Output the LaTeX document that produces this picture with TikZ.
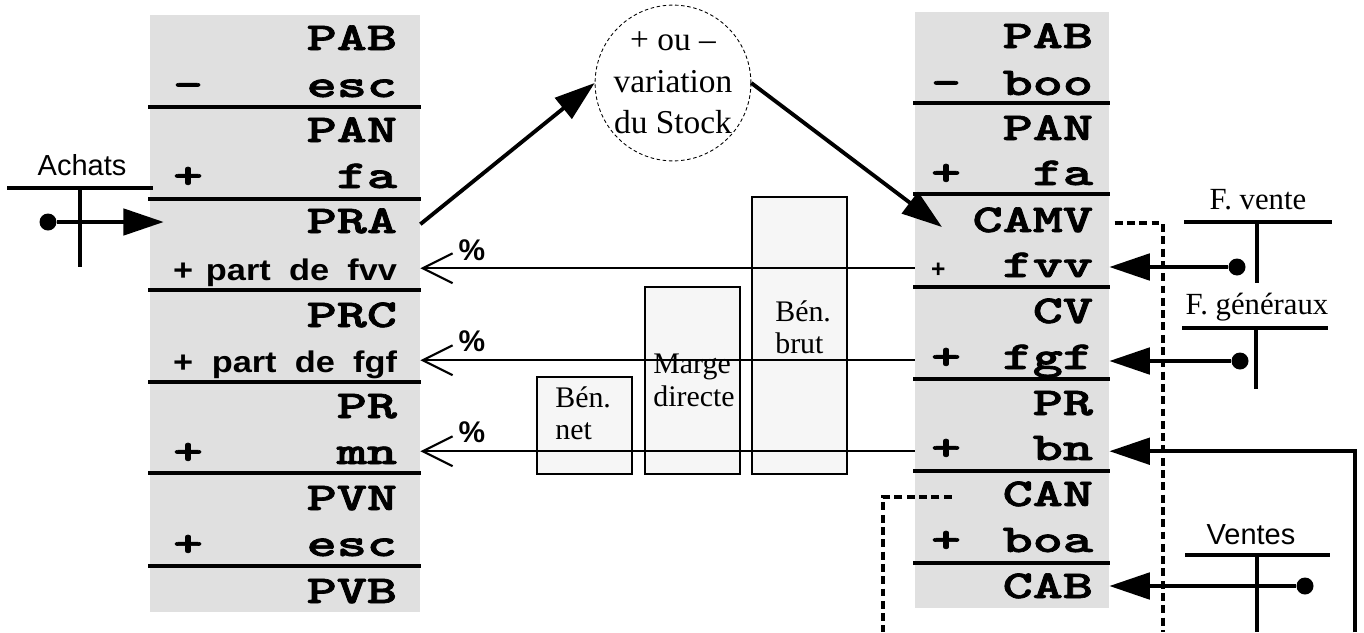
\documentclass[tikz,border=0pt]{standalone}
\usepackage{fontspec}
\setmainfont{Liberation Serif}
\setsansfont{Liberation Sans}
\newfontfamily\cfont{lmmonolt10-bold}[Extension=.otf, FakeBold=1.6]
\usepackage{graphicx}
\usetikzlibrary{arrows.meta,positioning,calc}
\pgfdeclarelayer{backlayer}
\pgfdeclarelayer{edgelayer}
\pgfdeclarelayer{nodelayer}
\pgfsetlayers{backlayer,edgelayer,nodelayer,main}
\definecolor{colgray}{gray}{0.878}
\definecolor{barfill}{gray}{0.965}
\newcommand{\ctext}[1]{\scalebox{1.45}[1]{\cfont\fontsize{22.5}{24}\selectfont #1}}
\newcommand{\stext}[1]{\scalebox{1.15}[1]{\sffamily\bfseries\fontsize{17}{18}\selectfont #1}}
\tikzstyle{lrow}=[anchor=base, inner xsep=0.46cm, inner ysep=0pt, text width=4.48cm, align=right, text height=14pt, text depth=4pt]
\tikzstyle{rrow}=[anchor=base, inner xsep=0.32cm, inner ysep=0pt, text width=3.24cm, align=right, text height=14pt, text depth=4pt]
\tikzstyle{sepline}=[-, line width=1.9pt]
\tikzstyle{bigarrow}=[-{Triangle[length=23pt,width=15pt]}, line width=2.2pt]
\tikzstyle{fineline}=[-{Straight Barb[length=17pt,width=17pt]}, line width=1.2pt]
\tikzstyle{tline}=[-, line width=2.2pt]
\tikzstyle{tdot}=[circle, fill=black, inner sep=0pt, minimum size=0.34cm]
\tikzstyle{dashline}=[-, line width=2pt, dash pattern=on 4.5pt off 2.5pt]
\tikzstyle{bar}=[draw, fill=barfill, line width=1.5pt, minimum width=1.90cm, inner sep=0pt]
\tikzstyle{barlabel}=[anchor=north west, inner sep=0pt, align=left, font=\fontsize{17}{18.5}\selectfont]
\tikzstyle{tlabel}=[inner sep=0pt, font=\fontsize{17.5}{20}\selectfont]
\tikzstyle{tlabelsf}=[inner sep=0pt, font=\sffamily\fontsize{16.5}{20}\selectfont]
\tikzstyle{pct}=[inner sep=0pt, font=\sffamily\bfseries\fontsize{17}{20}\selectfont]
\tikzstyle{stockcircle}=[circle, draw, dash pattern=on 2pt off 1.5pt, line width=0.5pt, minimum size=3.06cm, inner sep=0pt, align=center, font=\fontsize{19}{23.5}\selectfont]

\begin{document}
\begin{tikzpicture}
	\useasboundingbox (0,0) rectangle (27.28,-12.64);
	\begin{pgfonlayer}{backlayer}
		\fill [colgray] (3.00,-0.30) rectangle (8.40,-12.24);
		\fill [colgray] (18.30,-0.24) rectangle (22.18,-12.16);
		\node [style=bar, minimum height=1.94cm] (bnet) at (11.69,-8.51) {};
		\node [style=bar, minimum height=3.74cm] (mdir) at (13.85,-7.61) {};
		\node [style=bar, minimum height=5.54cm] (bbrut) at (15.99,-6.71) {};
	\end{pgfonlayer}
	\begin{pgfonlayer}{nodelayer}
		% prix d'achat -> prix de vente
		\node [style=lrow] (l0) at (5.70,-1.00) {\ctext{PAB}};
		\node [style=lrow] (l1) at (5.70,-1.94) {\ctext{-}\hfill\ctext{esc}};
		\node [style=lrow] (l2) at (5.70,-2.84) {\ctext{PAN}};
		\node [style=lrow] (l3) at (5.70,-3.76) {\ctext{+}\hfill\ctext{fa}};
		\node [style=lrow] (l4) at (5.70,-4.66) {\ctext{PRA}};
		\node [style=lrow] (l5) at (5.70,-5.60) {\stext{+}\hfill\stext{part\hspace{9pt}de\hspace{9pt}fvv}};
		\node [style=lrow] (l6) at (5.70,-6.54) {\ctext{PRC}};
		\node [style=lrow] (l7) at (5.70,-7.44) {\stext{+}\hfill\stext{part\hspace{9pt}de\hspace{9pt}fgf}};
		\node [style=lrow] (l8) at (5.70,-8.36) {\ctext{PR}};
		\node [style=lrow] (l9) at (5.70,-9.28) {\ctext{+}\hfill\ctext{mn}};
		\node [style=lrow] (l10) at (5.70,-10.20) {\ctext{PVN}};
		\node [style=lrow] (l11) at (5.70,-11.12) {\ctext{+}\hfill\ctext{esc}};
		\node [style=lrow] (l12) at (5.70,-12.06) {\ctext{PVB}};

		% chiffre d'affaires
		\node [style=rrow] (r0) at (20.24,-0.96) {\ctext{PAB}};
		\node [style=rrow] (r1) at (20.24,-1.90) {\ctext{-}\hfill\ctext{boo}};
		\node [style=rrow] (r2) at (20.24,-2.80) {\ctext{PAN}};
		\node [style=rrow] (r3) at (20.24,-3.70) {\ctext{+}\hfill\ctext{fa}};
		\node [style=rrow] (r4) at (20.24,-4.64) {\ctext{CAMV}};
		\node [style=rrow] (r5) at (20.24,-5.54) {{\sffamily\bfseries\fontsize{14}{16}\selectfont +}\hfill\ctext{fvv}};
		\node [style=rrow] (r6) at (20.24,-6.46) {\ctext{CV}};
		\node [style=rrow] (r7) at (20.24,-7.38) {\ctext{+}\hfill\ctext{fgf}};
		\node [style=rrow] (r8) at (20.24,-8.30) {\ctext{PR}};
		\node [style=rrow] (r9) at (20.24,-9.20) {\ctext{+}\hfill\ctext{bn}};
		\node [style=rrow] (r10) at (20.24,-10.12) {\ctext{CAN}};
		\node [style=rrow] (r11) at (20.24,-11.04) {\ctext{+}\hfill\ctext{boa}};
		\node [style=rrow] (r12) at (20.24,-11.96) {\ctext{CAB}};

		\node [style=stockcircle] (stock) at (13.46,-1.66) {+ ou –\\variation\\du Stock};

		\node [style=pct] (pc1) at (9.44,-5.00) {\%};
		\node [style=pct] (pc2) at (9.44,-6.82) {\%};
		\node [style=pct] (pc3) at (9.44,-8.64) {\%};

		\node [style=barlabel] (lbnet) at (11.10,-7.72) {Bén.\\net};
		\node [style=barlabel] (lmdir) at (13.06,-7.08) {Marge\\directe};
		\node [style=barlabel] (lbbrut) at (15.50,-6.00) {Bén.\\brut};

		\node [style=tlabelsf] (achats) at (1.64,-3.30) {Achats};
		\node [style=tlabel] (fvente) at (25.16,-4.00) {F. vente};
		\node [style=tlabel] (fgen) at (25.14,-6.14) {F. généraux};
		\node [style=tlabelsf] (ventes) at (25.02,-10.70) {Ventes};

		\node [style=tdot] (dachats) at (0.96,-4.44) {};
		\node [style=tdot] (dvente) at (24.74,-5.34) {};
		\node [style=tdot] (dgen) at (24.80,-7.22) {};
		\node [style=tdot] (dventes) at (26.10,-11.72) {};

		\coordinate (camvin) at (18.84,-4.54);
		\coordinate (camvend) at (23.26,-12.64);
		\coordinate (canend) at (17.66,-12.64);
		\coordinate (bnstart) at (27.10,-12.64);
	\end{pgfonlayer}
	\begin{pgfonlayer}{edgelayer}
		\draw [style=sepline] (2.96,-2.14) to (8.42,-2.14);
		\draw [style=sepline] (2.96,-3.98) to (8.42,-3.98);
		\draw [style=sepline] (2.96,-5.80) to (8.42,-5.80);
		\draw [style=sepline] (2.96,-7.64) to (8.42,-7.64);
		\draw [style=sepline] (2.96,-9.46) to (8.42,-9.46);
		\draw [style=sepline] (2.96,-11.32) to (8.42,-11.32);
		\draw [style=sepline] (18.26,-2.06) to (22.20,-2.06);
		\draw [style=sepline] (18.26,-3.88) to (22.20,-3.88);
		\draw [style=sepline] (18.26,-5.74) to (22.20,-5.74);
		\draw [style=sepline] (18.26,-7.58) to (22.20,-7.58);
		\draw [style=sepline] (18.26,-9.42) to (22.20,-9.42);
		\draw [style=sepline] (18.26,-11.26) to (22.20,-11.26);

		\draw [style=tline] (0.14,-3.76) to (3.06,-3.76);
		\draw [style=tline] (1.60,-3.76) to (1.60,-5.34);
		\draw [style=tline] (23.68,-4.44) to (26.64,-4.44);
		\draw [style=tline] (25.14,-4.44) to (25.14,-5.66);
		\draw [style=tline] (23.64,-6.56) to (26.56,-6.56);
		\draw [style=tline] (25.12,-6.56) to (25.12,-7.78);
		\draw [style=tline] (23.70,-11.10) to (26.60,-11.10);
		\draw [style=tline] (25.14,-11.10) to (25.14,-12.64);

		\draw [style=dashline, shorten <=3pt] (r4.east) -| (camvend);
		\draw [style=dashline, shorten <=-21pt] (r10.west) -| (canend);

		\draw [style=bigarrow] (l4.east) to (stock.west);
		\draw [style=bigarrow] (stock.east) to (camvin);
		\draw [style=bigarrow, shorten >=-8pt] (dachats) to (dachats -| l4.west);
		\draw [style=bigarrow] (dvente) to (dvente -| r5.east);
		\draw [style=bigarrow] (dgen) to (dgen -| r7.east);
		\draw [style=bigarrow] (dventes) to (dventes -| r12.east);
		\draw [style=bigarrow] (bnstart) |- (r9.east);

		\draw [style=fineline] (r5.west) to (r5.west -| l5.east);
		\draw [style=fineline] (r7.west) to (r7.west -| l7.east);
		\draw [style=fineline] (r9.west) to (r9.west -| l9.east);
	\end{pgfonlayer}
\end{tikzpicture}
\end{document}
